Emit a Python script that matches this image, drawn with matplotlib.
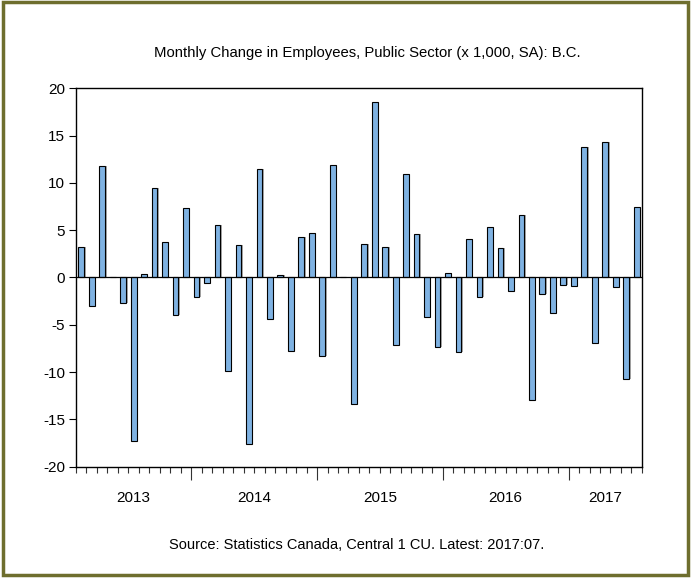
import matplotlib.pyplot as plt
import matplotlib.transforms as mtransforms
from matplotlib.patches import Rectangle
import numpy as np

plt.rcParams['font.family'] = ['Liberation Sans', 'DejaVu Sans']

# monthly change, Feb 2013 .. Jul 2017 (x 1,000)
values = [3.2, -3.0, 11.8, 0.1, -2.7, -17.3, 0.4, 9.5, 3.7, -4.0, 7.3,
          -2.1, -0.6, 5.6, -9.9, 3.4, -17.6, 11.5, -4.4, 0.3, -7.8, 4.3, 4.7,
          -8.3, 11.9, 0.1, -13.4, 3.5, 18.6, 3.2, -7.1, 10.9, 4.6, -4.2, -7.4,
          0.5, -7.9, 4.1, -2.1, 5.3, 3.1, -1.4, 6.6, -12.9, -1.7, -3.8, -0.8,
          -0.9, 13.8, -6.9, 14.3, -1.0, -10.7, 7.4]
years = ['2013', '2014', '2015', '2016', '2017']
months_in_year = [11, 12, 12, 12, 7]
yticks = [-20, -15, -10, -5, 0, 5, 10, 15, 20]

n = len(values)
x = np.arange(n)
vals = np.array(values)

fig = plt.figure(figsize=(6.91, 5.79), dpi=100)
ax = fig.add_axes([0.110, 0.194, 0.819, 0.6535])

# shadow then bars
ax.bar(x + 0.14, vals, width=0.55, color='#a8a8a8', edgecolor='none', zorder=1)
ax.bar(x, vals, width=0.55, color='#7fb2e2', edgecolor='black', linewidth=0.8, zorder=2)
ax.axhline(0, color='black', linewidth=0.9, zorder=3)

ax.set_xlim(-0.5, n - 0.5)
ax.set_ylim(-20, 20)
ax.set_yticks(yticks)
ax.set_yticklabels([str(v) for v in yticks], fontsize=11)

# month ticks and year boundaries
bounds = np.cumsum([0] + months_in_year) - 0.5
ax.set_xticks(bounds[1:-1])
ax.set_xticklabels([])
ax.set_xticks(np.arange(n + 1) - 0.5, minor=True)
ax.tick_params(axis='x', which='major', length=9, width=0.8, color='#333333')
ax.tick_params(axis='x', which='minor', length=4, width=0.8, color='#333333')
ax.tick_params(axis='y', length=5, width=0.8, pad=3)

trans = mtransforms.blended_transform_factory(ax.transData, ax.transAxes)
for i, yr in enumerate(years):
    c = (bounds[i] + bounds[i + 1]) / 2
    ax.text(c, -0.082, yr, transform=trans, ha='center', va='center', fontsize=11)

for s in ax.spines.values():
    s.set_linewidth(1.0)

fig.text(0.531, 0.908, 'Monthly Change in Employees, Public Sector (x 1,000, SA): B.C.',
         ha='center', va='center', fontsize=10.7)
fig.text(0.516, 0.059, 'Source: Statistics Canada, Central 1 CU. Latest: 2017:07.',
         ha='center', va='center', fontsize=10.5)

# olive frame around the whole picture
fig.patches.append(Rectangle((0.0045, 0.0065), 0.991, 0.99, transform=fig.transFigure,
                             fill=False, edgecolor='#6e6e2e', linewidth=2.5))

fig.savefig('out.png', dpi=100)
